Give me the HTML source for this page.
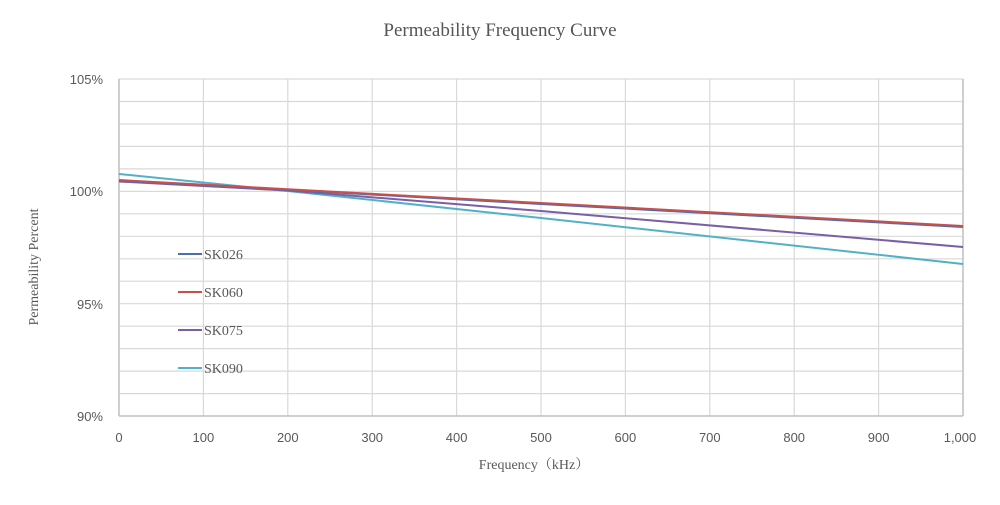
<!DOCTYPE html>
<html><head><meta charset="utf-8"><style>body{margin:0;background:#fff}</style></head><body>
<svg width="1000" height="500" xmlns="http://www.w3.org/2000/svg">
<rect width="1000" height="500" fill="#fff"/>
<text x="500" y="36" text-anchor="middle" font-family="Liberation Serif, serif" font-size="19" fill="#555">Permeability Frequency Curve</text>
<g stroke="#d9d9d9" stroke-width="1.2">
<line x1="119" y1="79" x2="963" y2="79"/><line x1="119" y1="101.5" x2="963" y2="101.5"/><line x1="119" y1="124" x2="963" y2="124"/><line x1="119" y1="146.4" x2="963" y2="146.4"/><line x1="119" y1="168.9" x2="963" y2="168.9"/><line x1="119" y1="191.4" x2="963" y2="191.4"/><line x1="119" y1="213.8" x2="963" y2="213.8"/><line x1="119" y1="236.3" x2="963" y2="236.3"/><line x1="119" y1="258.8" x2="963" y2="258.8"/><line x1="119" y1="281.2" x2="963" y2="281.2"/><line x1="119" y1="303.7" x2="963" y2="303.7"/><line x1="119" y1="326.2" x2="963" y2="326.2"/><line x1="119" y1="348.6" x2="963" y2="348.6"/><line x1="119" y1="371.1" x2="963" y2="371.1"/><line x1="119" y1="393.6" x2="963" y2="393.6"/>
<line x1="203.4" y1="79" x2="203.4" y2="416"/><line x1="287.8" y1="79" x2="287.8" y2="416"/><line x1="372.2" y1="79" x2="372.2" y2="416"/><line x1="456.6" y1="79" x2="456.6" y2="416"/><line x1="541" y1="79" x2="541" y2="416"/><line x1="625.4" y1="79" x2="625.4" y2="416"/><line x1="709.8" y1="79" x2="709.8" y2="416"/><line x1="794.2" y1="79" x2="794.2" y2="416"/><line x1="878.6" y1="79" x2="878.6" y2="416"/>
</g>
<g stroke="#bfbfbf" stroke-width="1.5"><line x1="119" y1="79" x2="119" y2="416"/><line x1="963" y1="79" x2="963" y2="416"/><line x1="119" y1="416" x2="963" y2="416"/></g>
<g font-family="Liberation Sans, sans-serif" font-size="13" fill="#595959" text-anchor="end">
<text x="103" y="84">105%</text><text x="103" y="196">100%</text><text x="103" y="309">95%</text><text x="103" y="421">90%</text></g>
<g font-family="Liberation Sans, sans-serif" font-size="13" fill="#595959" text-anchor="middle">
<text x="119" y="442">0</text><text x="203.4" y="442">100</text><text x="287.8" y="442">200</text><text x="372.2" y="442">300</text><text x="456.6" y="442">400</text><text x="541" y="442">500</text><text x="625.4" y="442">600</text><text x="709.8" y="442">700</text><text x="794.2" y="442">800</text><text x="878.6" y="442">900</text><text x="960" y="442">1,000</text></g>
<text x="534" y="469" text-anchor="middle" font-family="Liberation Serif, 'Noto Serif CJK SC', serif" font-size="14" fill="#595959">Frequency（kHz）</text>
<text transform="translate(38,267) rotate(-90)" text-anchor="middle" font-family="Liberation Serif, serif" font-size="14" fill="#595959">Permeability Percent</text>
<g fill="none" stroke-width="2">
<polyline stroke="#52b0c8" points="119,174 287.8,191 541,218 963,264"/>
<polyline stroke="#7a5ea8" points="119,181.5 287.8,190.5 541,211 963,247"/>
<polyline stroke="#4a6fb0" points="119,180.5 287.8,189.8 541,204 963,227"/>
<polyline stroke="#c8504b" points="119,180 287.8,189.3 541,203 963,226"/>
</g>
<g font-family="Liberation Serif, serif" font-size="14" fill="#595959">
<line x1="178" y1="254" x2="202" y2="254" stroke="#4a6fb0" stroke-width="2"/><text x="204" y="259">SK026</text>
<line x1="178" y1="292" x2="202" y2="292" stroke="#c8504b" stroke-width="2"/><text x="204" y="297">SK060</text>
<line x1="178" y1="330" x2="202" y2="330" stroke="#7a5ea8" stroke-width="2"/><text x="204" y="335">SK075</text>
<line x1="178" y1="368" x2="202" y2="368" stroke="#52b0c8" stroke-width="2"/><text x="204" y="373">SK090</text>
</g>
</svg>
</body></html>
